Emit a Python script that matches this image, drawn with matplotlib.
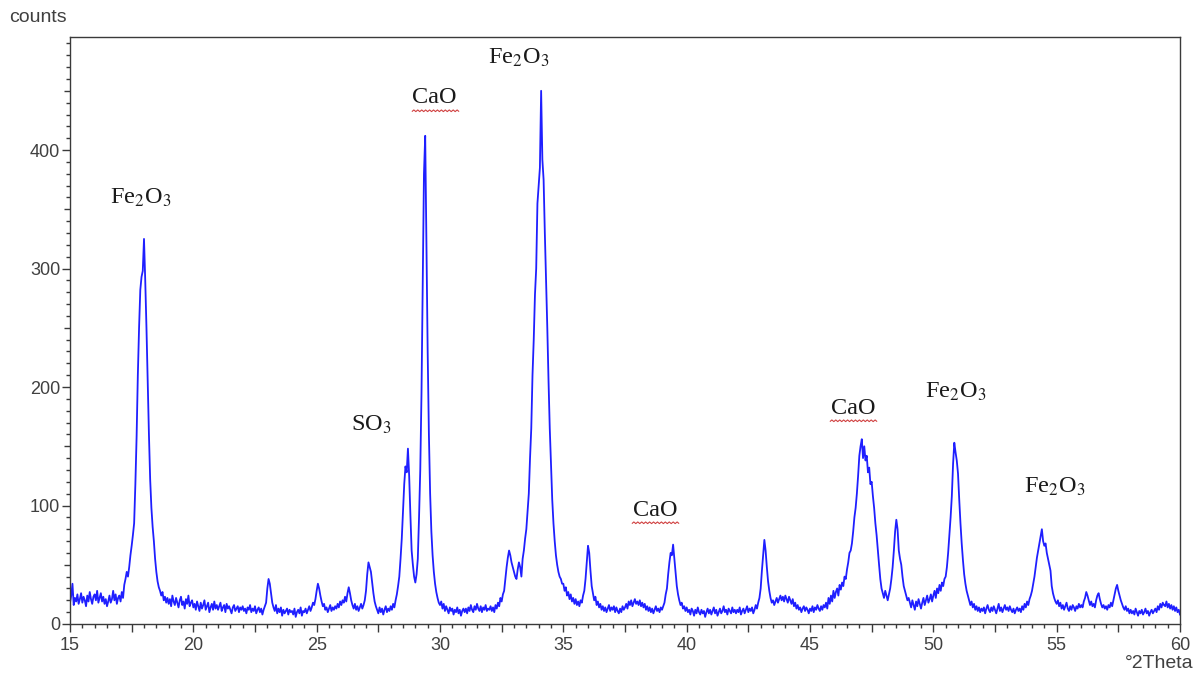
import numpy as np
import matplotlib
matplotlib.use("Agg")
import matplotlib.pyplot as plt
from matplotlib.path import Path
from matplotlib.ticker import FixedLocator

# ---- data, scan step 0.05 deg 2theta, one row per degree ----
scan_start = 15.0
scan_step = 0.05
counts_rows = [
    [18, 24, 34, 16, 22, 19, 25, 17, 21, 26, 18, 23, 20, 15, 24, 19, 27, 21, 17, 23],   # 15
    [25, 20, 28, 18, 22, 26, 19, 23, 17, 21, 15, 19, 24, 18, 21, 28, 20, 25, 17, 22],   # 16
    [24, 19, 27, 22, 33, 38, 44, 40, 48, 58, 66, 75, 85, 118, 158, 210, 250, 282, 293, 298],  # 17
    [325, 290, 250, 205, 160, 122, 98, 82, 70, 55, 44, 36, 31, 28, 24, 27, 20, 23, 18, 22],  # 18
    [17, 21, 15, 24, 19, 16, 22, 18, 14, 20, 23, 16, 19, 13, 21, 17, 24, 15, 18, 20],   # 19
    [14, 17, 12, 19, 15, 11, 18, 13, 16, 20, 12, 15, 18, 10, 14, 17, 12, 19, 13, 16],   # 20
    [12, 15, 18, 11, 14, 16, 10, 17, 13, 15, 12, 9, 14, 16, 11, 13, 15, 10, 14, 12],    # 21
    [15, 11, 13, 9, 14, 12, 16, 10, 13, 11, 15, 9, 12, 14, 10, 13, 8, 12, 15, 18],      # 22
    [30, 38, 34, 26, 18, 14, 11, 16, 9, 13, 10, 14, 7, 12, 9, 11, 13, 8, 12, 10],       # 23
    [11, 8, 13, 6, 10, 12, 9, 14, 7, 11, 10, 13, 9, 12, 15, 11, 14, 18, 16, 21],        # 24
    [28, 34, 30, 24, 19, 15, 17, 12, 14, 10, 13, 16, 11, 14, 12, 15, 13, 17, 14, 19],   # 25
    [16, 20, 18, 23, 19, 26, 31, 26, 20, 16, 13, 17, 12, 15, 11, 14, 17, 13, 16, 20],   # 26
    [28, 42, 52, 48, 44, 35, 26, 19, 15, 12, 9, 14, 10, 13, 8, 12, 15, 10, 13, 11],     # 27
    [15, 12, 17, 14, 20, 25, 32, 40, 55, 72, 95, 118, 133, 128, 148, 125, 92, 62, 50, 40],  # 28
    [35, 42, 55, 90, 130, 195, 290, 380, 412, 320, 230, 160, 110, 78, 58, 44, 34, 27, 22, 18],  # 29
    [16, 19, 13, 17, 11, 15, 12, 9, 14, 11, 13, 8, 12, 10, 14, 9, 12, 7, 11, 13],       # 30
    [10, 13, 9, 14, 11, 16, 12, 10, 15, 12, 17, 13, 11, 15, 10, 14, 12, 16, 11, 13],    # 31
    [12, 15, 11, 14, 10, 16, 13, 18, 15, 22, 19, 25, 28, 38, 48, 56, 62, 58, 52, 48],   # 32
    [44, 40, 38, 46, 52, 48, 40, 55, 62, 72, 80, 95, 110, 140, 165, 210, 240, 278, 300, 355],  # 33
    [370, 385, 450, 392, 375, 330, 290, 250, 205, 165, 135, 105, 85, 70, 58, 50, 44, 40, 38, 34],  # 34
    [34, 28, 31, 24, 27, 21, 25, 19, 22, 17, 21, 16, 19, 15, 20, 18, 24, 28, 38, 52],   # 35
    [66, 60, 45, 32, 26, 20, 23, 16, 19, 14, 17, 12, 15, 11, 14, 10, 13, 16, 11, 14],   # 36
    [12, 15, 10, 14, 11, 9, 13, 10, 15, 12, 14, 17, 13, 19, 16, 20, 15, 18, 21, 17],    # 37
    [19, 16, 20, 15, 18, 14, 17, 12, 15, 11, 14, 10, 13, 9, 12, 15, 11, 13, 10, 14],    # 38
    [12, 15, 18, 25, 30, 42, 52, 60, 58, 67, 55, 42, 32, 25, 20, 16, 18, 13, 15, 11],   # 39
    [14, 10, 12, 8, 13, 11, 7, 12, 9, 14, 10, 8, 12, 9, 11, 6, 10, 13, 9, 12],          # 40
    [8, 11, 14, 9, 12, 7, 10, 13, 9, 11, 15, 10, 12, 8, 13, 11, 9, 14, 10, 12],         # 41
    [9, 12, 10, 14, 8, 11, 13, 9, 12, 15, 10, 13, 11, 14, 9, 12, 16, 13, 18, 22],       # 42
    [30, 45, 58, 71, 62, 48, 36, 28, 22, 18, 20, 16, 19, 22, 18, 21, 24, 20, 23, 19],   # 43
    [24, 21, 18, 23, 20, 17, 21, 15, 18, 13, 16, 12, 14, 10, 13, 15, 11, 14, 12, 9],    # 44
    [13, 11, 15, 10, 14, 12, 16, 13, 11, 15, 12, 16, 14, 18, 13, 22, 17, 24, 19, 28],   # 45
    [22, 27, 30, 24, 33, 29, 35, 32, 40, 38, 46, 52, 60, 62, 68, 78, 90, 98, 110, 125], # 46
    [142, 150, 156, 140, 150, 138, 142, 128, 132, 118, 120, 108, 98, 85, 75, 62, 50, 38, 30, 26],  # 47
    [22, 28, 24, 20, 25, 30, 38, 48, 62, 78, 88, 80, 62, 55, 50, 40, 32, 28, 24, 20],   # 48
    [22, 18, 14, 20, 16, 12, 19, 15, 21, 17, 13, 18, 22, 16, 20, 24, 18, 21, 25, 19],   # 49
    [24, 28, 22, 30, 26, 33, 28, 35, 32, 38, 40, 48, 60, 75, 90, 108, 135, 153, 145, 138],  # 50
    [127, 105, 85, 68, 54, 42, 34, 28, 24, 20, 16, 19, 14, 17, 12, 15, 11, 14, 10, 13], # 51
    [11, 14, 9, 13, 16, 12, 10, 14, 11, 15, 12, 9, 13, 17, 11, 14, 10, 13, 16, 12],     # 52
    [14, 11, 15, 12, 10, 13, 9, 12, 14, 11, 13, 10, 15, 12, 17, 14, 19, 16, 21, 24],    # 53
    [28, 34, 40, 48, 56, 62, 68, 74, 80, 70, 66, 68, 60, 55, 50, 45, 32, 26, 22, 19],   # 54
    [17, 20, 15, 18, 13, 16, 12, 15, 18, 13, 11, 15, 12, 16, 14, 11, 15, 13, 17, 14],   # 55
    [16, 14, 19, 22, 27, 24, 20, 16, 19, 15, 17, 14, 20, 24, 26, 21, 17, 14, 16, 13],   # 56
    [15, 12, 16, 14, 18, 15, 20, 25, 30, 33, 28, 24, 20, 17, 14, 12, 15, 11, 13, 9],    # 57
    [12, 9, 11, 8, 13, 10, 7, 11, 9, 12, 8, 10, 13, 9, 11, 7, 10, 12, 9, 11],           # 58
    [13, 10, 15, 12, 17, 14, 18, 16, 15, 19, 14, 17, 13, 16, 12, 15, 11, 14, 10, 12],   # 59
    [8],                                                                                 # 60
]

label_texts = ["Fe$_2$O$_3$", "CaO", "Fe$_2$O$_3$", "SO$_3$", "CaO", "CaO", "Fe$_2$O$_3$", "Fe$_2$O$_3$"]
label_x = [17.88, 29.78, 33.2, 27.2, 38.71, 46.74, 50.91, 54.93]
label_y = [360, 444, 478, 168, 96, 182, 196, 116]

x_ticks = [15, 20, 25, 30, 35, 40, 45, 50, 55, 60]
y_ticks = [0, 100, 200, 300, 400]

# ---- build ----
counts = np.array([v for row in counts_rows for v in row], dtype=float)
two_theta = scan_start + scan_step * np.arange(counts.size)

plt.rcParams['mathtext.fontset'] = 'stix'

W, H, DPI = 1198, 679, 100
fig = plt.figure(figsize=(W / DPI, H / DPI), dpi=DPI)
ax = fig.add_axes([70 / W, 1 - 624 / H, (1180 - 70) / W, (624 - 37.5) / H])

ax.plot(two_theta, counts, color='#1f1fff', lw=1.3)

ax.set_xlim(15, 60)
ax.set_ylim(0, 495)

for s in ax.spines.values():
    s.set_color('#3a3a3a')
    s.set_linewidth(1.0)

tick_color = '#3a3a3a'
label_color = '#404040'
ax.set_xticks(x_ticks)
ax.set_yticks(y_ticks)
ax.tick_params(axis='both', which='major', direction='out', length=6, width=1.0,
               color=tick_color, labelcolor=label_color, labelsize=13)
ax.tick_params(axis='both', which='minor', direction='out', length=3, width=1.0, color=tick_color)
for lab in ax.get_xticklabels() + ax.get_yticklabels():
    lab.set_fontfamily('Liberation Sans')

x_minor = [v for v in np.arange(15, 60.01, 0.5) if abs(v / 5 - round(v / 5)) > 1e-6]
y_minor = [v for v in np.arange(0, 491, 10) if v % 100 != 0]
ax.xaxis.set_minor_locator(FixedLocator(x_minor))
ax.yaxis.set_minor_locator(FixedLocator(y_minor))
for loc, t in zip(x_minor, ax.xaxis.get_minor_ticks()):
    if abs(loc / 2.5 - round(loc / 2.5)) < 1e-6:
        t.tick1line.set_markersize(5.5)
for loc, t in zip(y_minor, ax.yaxis.get_minor_ticks()):
    if loc % 50 == 0:
        t.tick1line.set_markersize(4.5)
ax.tick_params(axis='x', which='major', pad=3)
ax.tick_params(axis='y', which='major', pad=1)

# peak labels
wave = [(-1.0 + 0.0833 * i, -0.52 + (0.035 if i % 2 else -0.035)) for i in range(25)]
wave_marker = Path(wave, [Path.MOVETO] + [Path.LINETO] * 24)
for txt, xx, yy in zip(label_texts, label_x, label_y):
    ax.text(xx, yy, txt, ha='center', va='center', fontsize=17.5,
            family='Liberation Serif', color='#1a1a1a')
    if txt == "CaO":
        ax.plot([xx], [yy], marker=wave_marker, markersize=34, color='#d04040',
                markerfacecolor='none', markeredgewidth=0.8, linestyle='none')

fig.text(9 / W, 1 - 17 / H, "counts", ha='left', va='center', fontsize=14,
         family='Liberation Sans', color='#404040')
fig.text(1193 / W, 1 - 664 / H, "°2Theta", ha='right', va='center', fontsize=14,
         family='Liberation Sans', color='#404040')

fig.savefig("out.png", dpi=DPI)
